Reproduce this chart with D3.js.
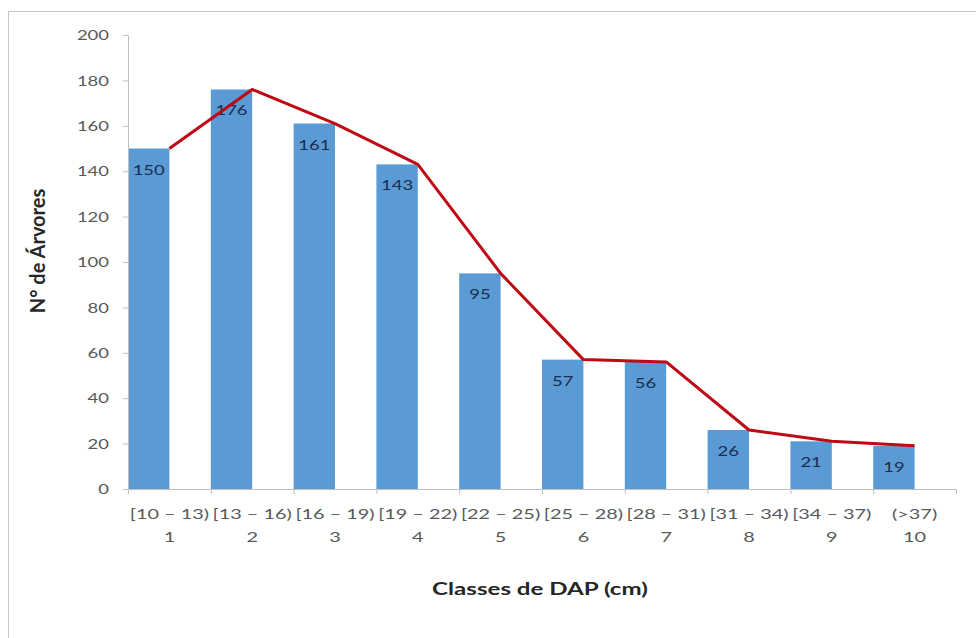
<!DOCTYPE html>
<html>
<head>
<meta charset="utf-8">
<script src="https://cdn.jsdelivr.net/npm/d3@7"></script>
<style>
  body { margin: 0; background: #fff; }
  svg { display: block; font-family: Lato, "Open Sans", sans-serif; }
</style>
</head>
<body>
<svg id="chart" width="976" height="638"></svg>
<script>
// data
var classNumbers = ["1", "2", "3", "4", "5", "6", "7", "8", "9", "10"];
var classRanges = ["[10 – 13)", "[13 – 16)", "[16 – 19)", "[19 – 22)", "[22 – 25)",
                   "[25 – 28)", "[28 – 31)", "[31 – 34)", "[34 – 37)", "(>37)"];
var treeCounts = [150, 176, 161, 143, 95, 57, 56, 26, 21, 19];
var yTicks = [0, 20, 40, 60, 80, 100, 120, 140, 160, 180, 200];

// the source picture is stretched sideways, so text is too
var SX = 1.42;

var svg = d3.select("#chart");

// outer chart frame (runs off the right and bottom)
svg.append("rect")
    .attr("x", 8.5).attr("y", 11.5)
    .attr("width", 1000).attr("height", 700)
    .attr("fill", "none")
    .attr("stroke", "#c6c6c6");

var x = d3.scaleBand().domain(classNumbers).range([128, 956]).padding(0);
var xEdges = d3.scaleLinear().domain([0, classNumbers.length]).range([128, 956]);
var y = d3.scaleLinear().domain([0, 200]).range([489, 35]);
var barW = x.bandwidth() * 0.5;

var rows = classNumbers.map(function(c, i) {
  return { cls: c, range: classRanges[i], n: treeCounts[i] };
});

// bars, sat at the left of each class
svg.append("g")
  .selectAll("rect")
    .data(rows)
  .enter().append("rect")
    .attr("x", function(d) { return x(d.cls); })
    .attr("y", function(d) { return y(d.n); })
    .attr("width", barW)
    .attr("height", function(d) { return y(0) - y(d.n); })
    .attr("fill", "#5b9bd5");

// value labels inside the bars
svg.append("g")
  .selectAll("g")
    .data(rows)
  .enter().append("g")
    .attr("transform", function(d) {
      return "translate(" + (x(d.cls) + barW / 2) + "," + (y(d.n) + 26) + ") scale(" + SX + ",1)";
    })
  .append("text")
    .attr("text-anchor", "middle")
    .attr("font-size", 13)
    .attr("fill", "#1c2d4d")
    .text(function(d) { return d.n; });

// frequency line, drawn at the right edge of each bar
var line = d3.line()
    .x(function(d) { return x(d.cls) + barW; })
    .y(function(d) { return y(d.n); });

svg.append("path")
    .datum(rows)
    .attr("d", line)
    .attr("fill", "none")
    .attr("stroke", "#be0a14")
    .attr("stroke-width", 3)
    .attr("stroke-linejoin", "round");

// y axis
var yAxis = svg.append("g")
    .attr("transform", "translate(128,0)")
    .call(d3.axisLeft(y).tickValues(yTicks).tickSize(5).tickSizeOuter(0));
yAxis.select(".domain").attr("stroke", "#bfbfbf");
yAxis.selectAll(".tick line").attr("stroke", "#bfbfbf");
yAxis.selectAll(".tick text")
    .attr("x", -19 / SX)
    .attr("dy", "0.36em")
    .attr("transform", "scale(" + SX + ",1)")
    .attr("font-family", "Lato, sans-serif")
    .attr("font-size", 13)
    .attr("fill", "#595959");

// x axis: tick marks at class boundaries
var xTicks = svg.append("g")
    .attr("transform", "translate(0,489)")
    .call(d3.axisBottom(xEdges).ticks(classNumbers.length).tickSize(5).tickSizeOuter(0).tickFormat(""));
xTicks.select(".domain").attr("stroke", "#bfbfbf");
xTicks.selectAll(".tick line").attr("stroke", "#bfbfbf");

// x axis: two-line class labels
var xLabels = svg.append("g")
    .attr("transform", "translate(0,489)")
    .call(d3.axisBottom(x).tickSize(0).tickSizeOuter(0));
xLabels.select(".domain").remove();
xLabels.selectAll(".tick text")
    .attr("y", null).attr("dy", null)
    .attr("transform", "scale(" + SX + ",1)")
    .attr("font-family", "Lato, sans-serif")
    .attr("font-size", 14)
    .attr("fill", "#595959")
    .text(null)
    .each(function(d, i) {
      var t = d3.select(this);
      t.append("tspan").attr("x", 0).attr("y", 30).text(classRanges[i]);
      t.append("tspan").attr("x", 0).attr("y", 53).text(d);
    });

// axis titles
svg.append("g")
    .attr("transform", "translate(540,595) scale(" + SX + ",1)")
  .append("text")
    .attr("text-anchor", "middle")
    .attr("font-size", 17)
    .attr("font-weight", "bold")
    .attr("fill", "#262626")
    .text("Classes de DAP (cm)");

svg.append("g")
    .attr("transform", "translate(45,251) rotate(-90)")
  .append("text")
    .attr("text-anchor", "middle")
    .attr("font-size", 20)
    .attr("font-weight", "bold")
    .attr("fill", "#262626")
    .text("N° de Árvores");
</script>
</body>
</html>
